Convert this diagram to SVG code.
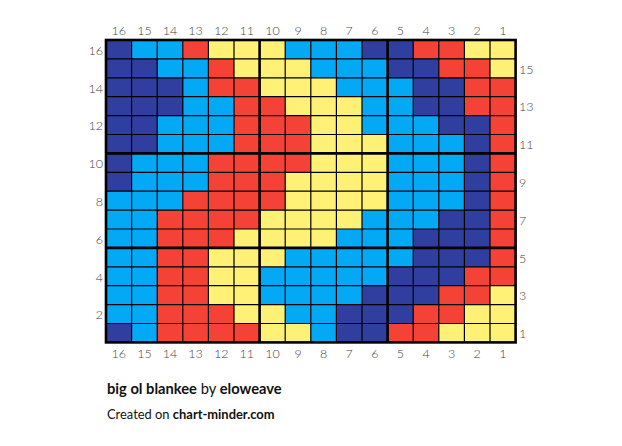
<svg xmlns="http://www.w3.org/2000/svg" width="622" height="446" viewBox="0 0 622 446">
<style>
.N{fill:#303f9f}.B{fill:#03a9f4}.R{fill:#f44336}.Y{fill:#fff176}
.thin{stroke:#000;stroke-width:1.2;fill:none}
.thick{stroke:#000;stroke-width:2.6;fill:none}
.lbl{font-family:Lato,"Liberation Sans",sans-serif;font-size:12.5px;font-weight:300;fill:#444}
.ttl{font-family:Lato,"Liberation Sans",sans-serif;font-size:14.7px;fill:#111}
.sub{font-family:Lato,"Liberation Sans",sans-serif;font-size:12.9px;fill:#111}
</style>
<rect width="622" height="446" fill="#fff"/>
<g id="cells">
<rect class="B" x="106" y="40" width="409.6" height="302.4"/>
<!-- row 16 -->
<rect class="N" x="106" y="40" width="25.6" height="18.9"/>
<rect class="R" x="182.8" y="40" width="25.6" height="18.9"/>
<rect class="Y" x="208.4" y="40" width="76.8" height="18.9"/>
<rect class="N" x="362" y="40" width="51.2" height="18.9"/>
<rect class="R" x="413.2" y="40" width="51.2" height="18.9"/>
<rect class="Y" x="464.4" y="40" width="51.2" height="18.9"/>
<!-- row 15 -->
<rect class="N" x="106" y="58.9" width="51.2" height="18.9"/>
<rect class="R" x="208.4" y="58.9" width="25.6" height="18.9"/>
<rect class="Y" x="234" y="58.9" width="76.8" height="18.9"/>
<rect class="N" x="387.6" y="58.9" width="51.2" height="18.9"/>
<rect class="R" x="438.8" y="58.9" width="51.2" height="18.9"/>
<rect class="Y" x="490" y="58.9" width="25.6" height="18.9"/>
<!-- row 14 -->
<rect class="N" x="106" y="77.8" width="76.8" height="18.9"/>
<rect class="R" x="208.4" y="77.8" width="51.2" height="18.9"/>
<rect class="Y" x="259.6" y="77.8" width="76.8" height="18.9"/>
<rect class="N" x="413.2" y="77.8" width="51.2" height="18.9"/>
<rect class="R" x="464.4" y="77.8" width="51.2" height="18.9"/>
<!-- row 13 -->
<rect class="N" x="106" y="96.7" width="76.8" height="18.9"/>
<rect class="R" x="234" y="96.7" width="51.2" height="18.9"/>
<rect class="Y" x="285.2" y="96.7" width="76.8" height="18.9"/>
<rect class="N" x="413.2" y="96.7" width="51.2" height="18.9"/>
<rect class="R" x="464.4" y="96.7" width="51.2" height="18.9"/>
<!-- row 12 -->
<rect class="N" x="106" y="115.6" width="51.2" height="18.9"/>
<rect class="R" x="234" y="115.6" width="76.8" height="18.9"/>
<rect class="Y" x="310.8" y="115.6" width="51.2" height="18.9"/>
<rect class="N" x="438.8" y="115.6" width="51.2" height="18.9"/>
<rect class="R" x="490" y="115.6" width="25.6" height="18.9"/>
<!-- row 11 -->
<rect class="N" x="106" y="134.5" width="51.2" height="18.9"/>
<rect class="R" x="234" y="134.5" width="76.8" height="18.9"/>
<rect class="Y" x="310.8" y="134.5" width="76.8" height="18.9"/>
<rect class="N" x="464.4" y="134.5" width="25.6" height="18.9"/>
<rect class="R" x="490" y="134.5" width="25.6" height="18.9"/>
<!-- row 10 -->
<rect class="N" x="106" y="153.4" width="25.6" height="18.9"/>
<rect class="R" x="208.4" y="153.4" width="102.4" height="18.9"/>
<rect class="Y" x="310.8" y="153.4" width="76.8" height="18.9"/>
<rect class="N" x="464.4" y="153.4" width="25.6" height="18.9"/>
<rect class="R" x="490" y="153.4" width="25.6" height="18.9"/>
<!-- row 9 -->
<rect class="N" x="106" y="172.3" width="25.6" height="18.9"/>
<rect class="R" x="208.4" y="172.3" width="76.8" height="18.9"/>
<rect class="Y" x="285.2" y="172.3" width="102.4" height="18.9"/>
<rect class="N" x="464.4" y="172.3" width="25.6" height="18.9"/>
<rect class="R" x="490" y="172.3" width="25.6" height="18.9"/>
<!-- row 8 -->
<rect class="R" x="182.8" y="191.2" width="102.4" height="18.9"/>
<rect class="Y" x="285.2" y="191.2" width="102.4" height="18.9"/>
<rect class="N" x="464.4" y="191.2" width="25.6" height="18.9"/>
<rect class="R" x="490" y="191.2" width="25.6" height="18.9"/>
<!-- row 7 -->
<rect class="R" x="157.2" y="210.1" width="102.4" height="18.9"/>
<rect class="Y" x="259.6" y="210.1" width="102.4" height="18.9"/>
<rect class="N" x="438.8" y="210.1" width="51.2" height="18.9"/>
<rect class="R" x="490" y="210.1" width="25.6" height="18.9"/>
<!-- row 6 -->
<rect class="R" x="157.2" y="229" width="76.8" height="18.9"/>
<rect class="Y" x="234" y="229" width="102.4" height="18.9"/>
<rect class="N" x="413.2" y="229" width="76.8" height="18.9"/>
<rect class="R" x="490" y="229" width="25.6" height="18.9"/>
<!-- row 5 -->
<rect class="R" x="157.2" y="247.9" width="51.2" height="18.9"/>
<rect class="Y" x="208.4" y="247.9" width="76.8" height="18.9"/>
<rect class="N" x="413.2" y="247.9" width="76.8" height="18.9"/>
<rect class="R" x="490" y="247.9" width="25.6" height="18.9"/>
<!-- row 4 -->
<rect class="R" x="157.2" y="266.8" width="51.2" height="18.9"/>
<rect class="Y" x="208.4" y="266.8" width="51.2" height="18.9"/>
<rect class="N" x="387.6" y="266.8" width="76.8" height="18.9"/>
<rect class="R" x="464.4" y="266.8" width="51.2" height="18.9"/>
<!-- row 3 -->
<rect class="R" x="157.2" y="285.7" width="51.2" height="18.9"/>
<rect class="Y" x="208.4" y="285.7" width="51.2" height="18.9"/>
<rect class="N" x="362" y="285.7" width="76.8" height="18.9"/>
<rect class="R" x="438.8" y="285.7" width="51.2" height="18.9"/>
<rect class="Y" x="490" y="285.7" width="25.6" height="18.9"/>
<!-- row 2 -->
<rect class="R" x="157.2" y="304.6" width="76.8" height="18.9"/>
<rect class="Y" x="234" y="304.6" width="51.2" height="18.9"/>
<rect class="N" x="336.4" y="304.6" width="76.8" height="18.9"/>
<rect class="R" x="413.2" y="304.6" width="51.2" height="18.9"/>
<rect class="Y" x="464.4" y="304.6" width="51.2" height="18.9"/>
<!-- row 1 -->
<rect class="N" x="106" y="323.5" width="25.6" height="18.9"/>
<rect class="R" x="157.2" y="323.5" width="102.4" height="18.9"/>
<rect class="Y" x="259.6" y="323.5" width="51.2" height="18.9"/>
<rect class="N" x="336.4" y="323.5" width="51.2" height="18.9"/>
<rect class="R" x="387.6" y="323.5" width="51.2" height="18.9"/>
<rect class="Y" x="438.8" y="323.5" width="76.8" height="18.9"/>
</g>
<g id="gridlines">
<path class="thin" d="M131.6 40V342.4M157.2 40V342.4M182.8 40V342.4M208.4 40V342.4M234 40V342.4M285.2 40V342.4M310.8 40V342.4M336.4 40V342.4M362 40V342.4M413.2 40V342.4M438.8 40V342.4M464.4 40V342.4M490 40V342.4"/>
<path class="thin" d="M106 58.9H515.6M106 77.8H515.6M106 96.7H515.6M106 115.6H515.6M106 134.5H515.6M106 172.3H515.6M106 191.2H515.6M106 210.1H515.6M106 229H515.6M106 266.8H515.6M106 285.7H515.6M106 304.6H515.6M106 323.5H515.6"/>
<path class="thick" d="M259.6 40V342.4M387.6 40V342.4M106 153.4H515.6M106 247.9H515.6"/>
<rect class="thick" x="106" y="40" width="409.6" height="302.4" stroke-width="3"/>
</g>
<g id="col-labels-top" class="lbl" text-anchor="middle">
<text x="118.8" y="35">16</text><text x="144.4" y="35">15</text><text x="170" y="35">14</text><text x="195.6" y="35">13</text><text x="221.2" y="35">12</text><text x="246.8" y="35">11</text><text x="272.4" y="35">10</text><text x="298" y="35">9</text><text x="323.6" y="35">8</text><text x="349.2" y="35">7</text><text x="374.8" y="35">6</text><text x="400.4" y="35">5</text><text x="426" y="35">4</text><text x="451.6" y="35">3</text><text x="477.2" y="35">2</text><text x="502.8" y="35">1</text>
</g>
<g id="col-labels-bottom" class="lbl" text-anchor="middle">
<text x="118.8" y="357.5">16</text><text x="144.4" y="357.5">15</text><text x="170" y="357.5">14</text><text x="195.6" y="357.5">13</text><text x="221.2" y="357.5">12</text><text x="246.8" y="357.5">11</text><text x="272.4" y="357.5">10</text><text x="298" y="357.5">9</text><text x="323.6" y="357.5">8</text><text x="349.2" y="357.5">7</text><text x="374.8" y="357.5">6</text><text x="400.4" y="357.5">5</text><text x="426" y="357.5">4</text><text x="451.6" y="357.5">3</text><text x="477.2" y="357.5">2</text><text x="502.8" y="357.5">1</text>
</g>
<g id="row-labels-left" class="lbl" text-anchor="end">
<text x="103" y="54.8">16</text><text x="103" y="92.6">14</text><text x="103" y="130.4">12</text><text x="103" y="168.2">10</text><text x="103" y="206">8</text><text x="103" y="243.8">6</text><text x="103" y="281.6">4</text><text x="103" y="319.4">2</text>
</g>
<g id="row-labels-right" class="lbl">
<text x="519" y="73.5">15</text><text x="519" y="111.3">13</text><text x="519" y="149.1">11</text><text x="519" y="186.9">9</text><text x="519" y="224.7">7</text><text x="519" y="262.5">5</text><text x="519" y="300.3">3</text><text x="519" y="338.1">1</text>
</g>
<g id="caption">
<text class="ttl" x="107" y="394"><tspan font-weight="bold">big ol blankee</tspan> by <tspan font-weight="bold">eloweave</tspan></text>
<text class="sub" x="107" y="419">Created on <tspan font-weight="bold">chart-minder.com</tspan></text>
</g>
</svg>
